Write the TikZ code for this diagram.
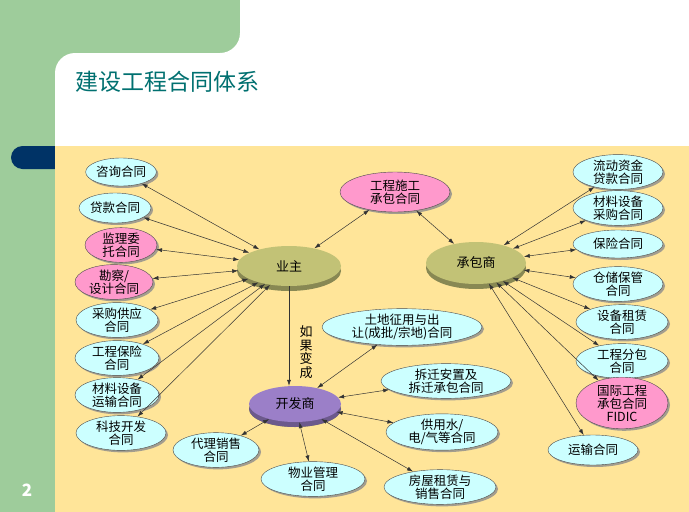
\documentclass[tikz,border=0pt]{standalone}
\usepackage{fontspec}
\setmainfont{Noto Sans CJK SC}
\usetikzlibrary{shapes.geometric,arrows.meta,shadows}
\definecolor{cyanf}{HTML}{CCFFFF}
\definecolor{pinkf}{HTML}{FF99CC}
\definecolor{olivef}{HTML}{C2C276}
\definecolor{purplef}{HTML}{9B7FC8}
\definecolor{bgy}{HTML}{FFE599}
\definecolor{greenb}{HTML}{9ECC9B}
\definecolor{navy}{HTML}{003366}
\definecolor{teal}{HTML}{007070}
\tikzset{
 ell/.style={ellipse,draw=black!70,fill=cyanf,inner sep=0pt,font=\fontsize{12.5}{13}\selectfont,align=center,drop shadow={shadow xshift=2pt,shadow yshift=-2pt,fill=black!45,opacity=0.8}},
 pk/.style={ell,fill=pinkf},
 hub/.style={ellipse,fill=olivef,inner sep=0pt,font=\fontsize{13}{14}\selectfont,drop shadow={shadow xshift=0pt,shadow yshift=-5pt,fill=olivef!70!black,opacity=1}},
 con/.style={draw=black!80,line width=0.5pt,{Latex[length=6pt,width=4pt]}-{Latex[length=6pt,width=4pt]}}
}
\begin{document}
\begin{tikzpicture}[x=1pt,y=-1pt]
\useasboundingbox (0,0) rectangle (689,512);
\fill[greenb] (0,0) rectangle (689,512);
\fill[white,rounded corners=20pt] (55,560) -- (55,53) -- (240,53) -- (240,0) [sharp corners] -- (240,0) -- (700,0) -- (700,560) -- cycle;
\fill[white] (240,0) rectangle (689,53);
\fill[navy,rounded corners=11.5pt] (11,146) rectangle (80,169);
\fill[bgy] (55,146) rectangle (689,512);
\node[anchor=west,text=teal,font=\fontsize{23}{24}\selectfont] (title) at (72,82) {建设工程合同体系};
\node[text=white,font=\bfseries\fontsize{17}{18}\selectfont] (pg) at (27,490) {2};

\node[hub,minimum width=104pt,minimum height=40pt] (yz) at (289,266) {业主};
\node[hub,minimum width=100pt,minimum height=42pt] (cbs) at (476,263) {承包商};
\node[hub,fill=purplef,minimum width=92pt,minimum height=36pt,drop shadow={shadow xshift=0pt,shadow yshift=-5pt,fill=purplef!70!black,opacity=1}] (kfs) at (295,404) {开发商};

\node[ell,minimum width=70pt,minimum height=28pt] (a1) at (121,172) {咨询合同};
\node[ell,minimum width=72pt,minimum height=30pt] (a2) at (115,208) {贷款合同};
\node[pk,minimum width=72pt,minimum height=32pt] (a3) at (121,245) {监理委\\托合同};
\node[pk,minimum width=78pt,minimum height=32pt] (a4) at (114,282) {勘察/\\设计合同};
\node[ell,minimum width=82pt,minimum height=32pt] (a5) at (117,320) {采购供应\\合同};
\node[ell,minimum width=84pt,minimum height=32pt] (a6) at (117,358) {工程保险\\合同};
\node[ell,minimum width=84pt,minimum height=32pt] (a7) at (117,395) {材料设备\\运输合同};
\node[ell,minimum width=90pt,minimum height=32pt] (a8) at (121,433) {科技开发\\合同};

\node[pk,minimum width=110pt,minimum height=40pt] (gc) at (395,192) {工程施工\\承包合同};

\node[ell,minimum width=160pt,minimum height=36pt] (d1) at (402,327) {土地征用与出\\让(成批/宗地)合同};
\node[ell,minimum width=130pt,minimum height=34pt] (d2) at (446,381) {拆迁安置及\\拆迁承包合同};
\node[ell,minimum width=112pt,minimum height=34pt] (d3) at (442,432) {供用水/\\电/气等合同};
\node[ell,minimum width=112pt,minimum height=34pt] (d4) at (440,487) {房屋租赁与\\销售合同};
\node[ell,minimum width=104pt,minimum height=32pt] (d5) at (313,479) {物业管理\\合同};
\node[ell,minimum width=86pt,minimum height=34pt] (d6) at (216,450) {代理销售\\合同};

\node[ell,minimum width=90pt,minimum height=32pt] (c1) at (618,172) {流动资金\\贷款合同};
\node[ell,minimum width=90pt,minimum height=32pt] (c2) at (618,208) {材料设备\\采购合同};
\node[ell,minimum width=90pt,minimum height=28pt] (c3) at (618,244) {保险合同};
\node[ell,minimum width=90pt,minimum height=32pt] (c4) at (618,284) {仓储保管\\合同};
\node[ell,minimum width=92pt,minimum height=32pt] (c5) at (622,322) {设备租赁\\合同};
\node[ell,minimum width=92pt,minimum height=32pt] (c6) at (622,361) {工程分包\\合同};
\node[pk,minimum width=92pt,minimum height=44pt] (c7) at (622,403) {国际工程\\承包合同\\FIDIC};
\node[ell,minimum width=90pt,minimum height=30pt] (c8) at (593,450) {运输合同};

\foreach \n in {a1,a2,a3,a4,a5,a6,a7,a8,gc} \draw[con] (\n) -- (yz);
\foreach \n in {c1,c2,c3,c4,c5,c6,c7,c8,gc} \draw[con] (\n) -- (cbs);
\foreach \n in {d1,d2,d3,d4,d5,d6} \draw[con] (\n) -- (kfs);
\draw[draw=black!80,line width=0.5pt,-{Latex[length=6pt,width=4pt]}] (yz.south) -- (kfs.north-|yz.south);
\node[font=\fontsize{13}{13.5}\selectfont,align=center] (rg) at (306,352) {如\\果\\变\\成};
\end{tikzpicture}
\end{document}
